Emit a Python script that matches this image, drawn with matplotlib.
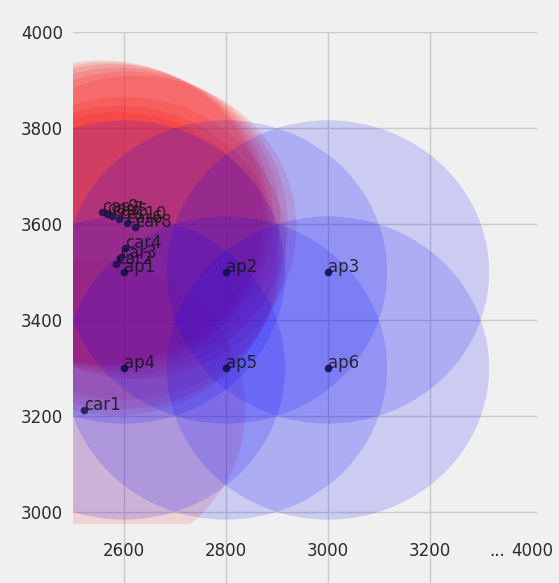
import matplotlib
matplotlib.use("Agg")
import matplotlib.pyplot as plt
from matplotlib.patches import Circle

# Access points
ap_names = ["ap1", "ap2", "ap3", "ap4", "ap5", "ap6"]
ap_x = [2600, 2800, 3000, 2600, 2800, 3000]
ap_y = [3500, 3500, 3500, 3300, 3300, 3300]

# Estimated car positions
car_names = ["car1", "car2", "car3", "car4", "car5",
             "car6", "car7", "car8", "car9", "car10"]
car_x = [2522, 2585, 2592, 2602, 2576, 2605, 2566, 2622, 2557, 2590]
car_y = [3212, 3517, 3530, 3549, 3617, 3602, 3621, 3593, 3625, 3610]

# Coverage radius
radius = 316

xtick_pos = [2600, 2800, 3000, 3200, 3332, 3401]
xtick_labels = ["2600", "2800", "3000", "3200", "...", "4000"]
ytick_pos = [3000, 3200, 3400, 3600, 3800, 4000]
ytick_labels = ["3000", "3200", "3400", "3600", "3800", "4000"]

BG = "#f0f0f0"
GRID = "#cbcbcb"

fig = plt.figure(figsize=(5.59, 5.83), dpi=100, facecolor=BG)
ax = fig.add_axes([73 / 559, (583 - 524) / 583, (537 - 73) / 559, (524 - 32) / 583])
ax.set_facecolor(BG)
for s in ax.spines.values():
    s.set_visible(False)

ax.set_xlim(2500, 3410)
ax.set_ylim(2975, 4000)

# horizontal grid inside the axes, vertical grid running down past the labels
ax.set_axisbelow(True)
ax.yaxis.grid(True, color=GRID, lw=1)
for x in xtick_pos[:4]:
    ax.axvline(x, ymin=-0.125, ymax=1, color=GRID, lw=1, clip_on=False, zorder=0)

# coverage areas of the cars
for cx, cy in zip(car_x, car_y):
    ax.add_patch(Circle((cx, cy), radius, facecolor="red", edgecolor="none",
                        alpha=0.12, zorder=1))

# coverage areas of the access points
for px, py in zip(ap_x, ap_y):
    ax.add_patch(Circle((px, py), radius, facecolor="blue", edgecolor="none",
                        alpha=0.15, zorder=2))

dot_color = "#12104a"
ax.scatter(car_x, car_y, s=30, color=dot_color, alpha=0.8, zorder=3, linewidths=0)
ax.scatter(ap_x, ap_y, s=30, color=dot_color, alpha=0.9, zorder=3, linewidths=0)

for name, x, y in zip(car_names, car_x, car_y):
    ax.text(x, y, name, fontsize=12, color="#151515", alpha=0.85, zorder=4)
for name, x, y in zip(ap_names, ap_x, ap_y):
    ax.text(x, y, name, fontsize=12, color="#151515", alpha=0.85, zorder=4)

ax.set_xticks(xtick_pos)
ax.set_xticklabels(xtick_labels)
ax.set_yticks(ytick_pos)
ax.set_yticklabels(ytick_labels)
ax.tick_params(axis="both", length=0, labelsize=12, labelcolor="#2b2b2b")
ax.tick_params(axis="x", pad=13)
ax.tick_params(axis="y", pad=7)

fig.savefig("out.png", dpi=100, facecolor=BG)
